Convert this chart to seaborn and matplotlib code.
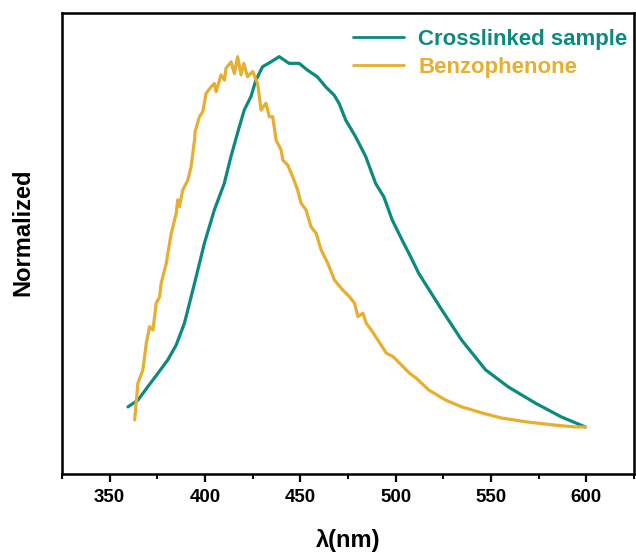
import numpy as np
import pandas as pd
import matplotlib
matplotlib.use("Agg")
import matplotlib.pyplot as plt
import seaborn as sns
from matplotlib.ticker import MultipleLocator

# ---- data ----
cross_nm = [359.6, 364.8, 370.0, 375.3, 380.5, 384.9, 389.2, 394.5, 399.7, 404.9,
            410.1, 413.6, 418.0, 420.6, 424.1, 426.7, 430.2, 434.6, 438.9, 444.1,
            449.4, 453.7, 458.9, 463.3, 467.7, 470.3, 473.8, 479.0, 484.3, 489.5,
            493.8, 498.2, 503.4, 507.8, 512.1, 524.2, 534.6, 547.2, 559.2, 573.3,
            586.9, 599.5]
cross_val = [0.062, 0.080, 0.116, 0.152, 0.188, 0.228, 0.286, 0.393, 0.501, 0.590,
             0.661, 0.733, 0.813, 0.858, 0.894, 0.938, 0.974, 0.987, 1.001, 0.983,
             0.983, 0.965, 0.947, 0.920, 0.898, 0.876, 0.831, 0.786, 0.733, 0.661,
             0.625, 0.563, 0.509, 0.465, 0.420, 0.322, 0.241, 0.161, 0.115, 0.072,
             0.035, 0.008]

benzo_nm = [363.1, 364.8, 367.4, 369.2, 370.9, 372.7, 374.4, 376.2, 377.0, 379.7,
            380.5, 382.3, 384.9, 385.7, 386.6, 388.3, 391.0, 392.7, 394.5, 394.8,
            397.1, 398.8, 400.6, 403.2, 404.9, 405.8, 408.4, 410.2, 411.0, 413.7,
            415.4, 417.1, 418.9, 420.3, 422.3, 425.0, 427.6, 429.4, 432.0, 433.7,
            435.5, 437.3, 439.9, 440.8, 443.4, 446.0, 448.6, 450.4, 453.0, 455.6,
            458.3, 460.9, 464.4, 467.9, 472.3, 475.8, 478.4, 480.2, 482.8, 484.6,
            487.2, 490.7, 495.1, 498.6, 502.1, 507.3, 510.8, 517.4, 526.3, 534.6,
            545.1, 555.5, 569.7, 583.8, 594.2, 599.5]
benzo_val = [0.027, 0.125, 0.161, 0.232, 0.277, 0.268, 0.340, 0.357, 0.393, 0.447,
             0.474, 0.527, 0.581, 0.617, 0.599, 0.643, 0.670, 0.706, 0.777, 0.800,
             0.840, 0.853, 0.903, 0.920, 0.929, 0.907, 0.952, 0.938, 0.970, 0.987,
             0.956, 1.001, 0.952, 0.983, 0.947, 0.961, 0.929, 0.858, 0.876, 0.840,
             0.840, 0.777, 0.751, 0.724, 0.710, 0.679, 0.643, 0.608, 0.590, 0.545,
             0.527, 0.483, 0.447, 0.402, 0.375, 0.357, 0.340, 0.304, 0.313, 0.286,
             0.268, 0.241, 0.206, 0.197, 0.179, 0.152, 0.139, 0.107, 0.080, 0.062,
             0.046, 0.032, 0.021, 0.013, 0.008, 0.008]

series_names = ["Crosslinked sample", "Benzophenone"]
colors = ["#0B8A80", "#E8AE2F"]
x_ticks = [350, 400, 450, 500, 550, 600]

df = pd.concat([
    pd.DataFrame({"nm": cross_nm, "val": cross_val, "series": series_names[0]}),
    pd.DataFrame({"nm": benzo_nm, "val": benzo_val, "series": series_names[1]}),
], ignore_index=True)

sns.set_style("white")
plt.rcParams['font.family'] = ['Liberation Sans', 'DejaVu Sans']
plt.rcParams['text.color'] = 'black'
plt.rcParams['axes.labelcolor'] = 'black'
plt.rcParams['xtick.color'] = 'black'
plt.rcParams['xtick.labelcolor'] = 'black'

fig = plt.figure(figsize=(6.36, 5.52), dpi=100)
ax = fig.add_axes([62/636, (552-474)/552, (634-62)/636, (474-13)/552])

sns.lineplot(data=df, x="nm", y="val", hue="series", hue_order=series_names,
             palette=colors, linewidth=2.3, sort=False, estimator=None, ax=ax)

ax.set_xlim(325, 625)
ax.set_ylim(-0.118, 1.118)
ax.set_xticks(x_ticks)
ax.xaxis.set_minor_locator(MultipleLocator(25))
ax.set_yticks([])
ax.tick_params(axis='x', which='major', direction='out', length=6, width=1.6,
               labelsize=13.5, pad=5, bottom=True, colors='black')
ax.tick_params(axis='x', which='minor', direction='out', length=3.5, width=1.4,
               bottom=True, colors='black')
for lab in ax.get_xticklabels():
    lab.set_fontweight('bold')
for sp in ax.spines.values():
    sp.set_linewidth(1.8)
    sp.set_color('black')

ax.set_xlabel("λ(nm)", fontsize=17, fontweight='bold', color='black')
ax.set_ylabel("Normalized", fontsize=17, fontweight='bold', color='black')
ax.xaxis.set_label_coords(0.5, -(540 - 474) / 461, transform=ax.transAxes)
ax.xaxis.label.set_va('center')
ax.yaxis.set_label_coords((23 - 62) / 572, (474 - 232) / 461, transform=ax.transAxes)
ax.yaxis.label.set_va('center')

leg = ax.legend(loc='upper right', bbox_to_anchor=(1.012, 0.995), frameon=False,
                prop={'weight': 'bold', 'size': 16}, labelcolor='linecolor',
                handlelength=2.3, handletextpad=0.65, labelspacing=0.33,
                borderaxespad=0.2)
for h in leg.get_lines():
    h.set_linewidth(2.0)

fig.savefig("out.png", dpi=100)
